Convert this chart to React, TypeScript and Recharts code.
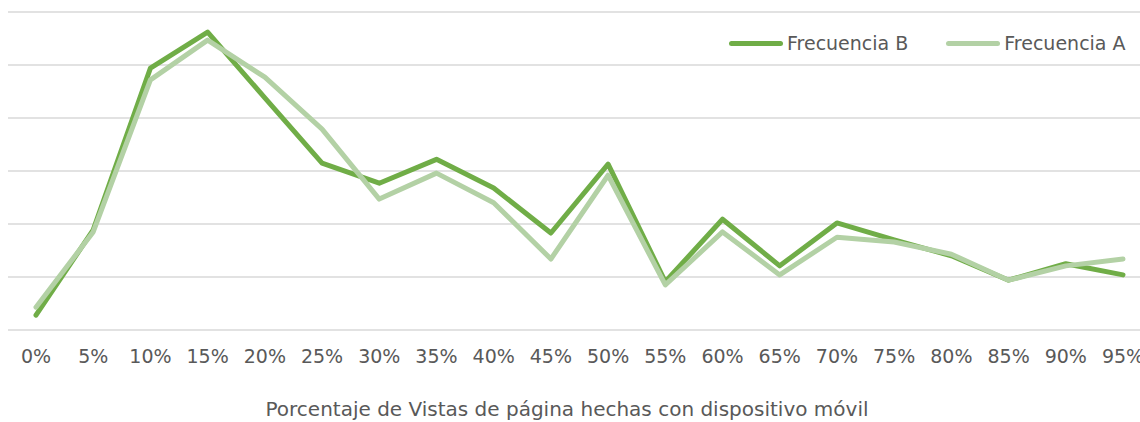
import React from 'react';
import { LineChart, Line, XAxis, YAxis, CartesianGrid, Legend, Label } from 'recharts';

const categories = ['0%', '5%', '10%', '15%', '20%', '25%', '30%', '35%', '40%', '45%', '50%', '55%', '60%', '65%', '70%', '75%', '80%', '85%', '90%', '95%'];
const frecuenciaB = [0.28, 1.89, 4.94, 5.62, 4.38, 3.15, 2.77, 3.22, 2.68, 1.83, 3.13, 0.91, 2.09, 1.21, 2.02, 1.7, 1.4, 0.94, 1.25, 1.04];
const frecuenciaA = [0.43, 1.85, 4.72, 5.47, 4.77, 3.79, 2.47, 2.96, 2.4, 1.34, 2.92, 0.85, 1.85, 1.04, 1.75, 1.66, 1.43, 0.94, 1.21, 1.34];
const yTicks = [0, 1, 2, 3, 4, 5, 6];

const data = categories.map((c, i) => ({ name: c, b: frecuenciaB[i], a: frecuenciaA[i] }));

const FONT = '"DejaVu Sans", Verdana, sans-serif';
const TEXT = '#595959';
const DARK = '#70AD47';
const LIGHT = '#B3D1A5';

const Tick = (props: any) => {
  const { x, y, payload } = props;
  return (
    <text x={x} y={y + 33} textAnchor="middle" fontSize={19} fontFamily={FONT} fill={TEXT}>
      {payload.value}
    </text>
  );
};

const legendItems = [
  { label: 'Frecuencia B', color: DARK },
  { label: 'Frecuencia A', color: LIGHT },
];

const renderLegend = () => (
  <div style={{ display: 'flex', alignItems: 'center', fontFamily: FONT, fontSize: 19, color: TEXT }}>
    {legendItems.map((it) => (
      <div key={it.label} style={{ display: 'flex', alignItems: 'center', marginRight: 38 }}>
        <div style={{ width: 54, height: 5, borderRadius: 3, background: it.color, marginRight: 4 }} />
        <span style={{ whiteSpace: 'nowrap' }}>{it.label}</span>
      </div>
    ))}
  </div>
);

export default function App() {
  return (
    <div style={{ position: 'absolute', left: 0, top: 0, width: 1140, height: 422, background: '#fff' }}>
      <LineChart width={1140} height={422} data={data} margin={{ top: 12, right: 0, left: 8, bottom: 0 }}>
        <CartesianGrid vertical={false} stroke="#d9d9d9" strokeWidth={1.5} />
        <YAxis hide domain={[0, 6]} ticks={yTicks} />
        <XAxis
          dataKey="name"
          height={92}
          axisLine={false}
          tickLine={false}
          tickSize={0}
          tickMargin={0}
          interval={0}
          padding={{ left: 28, right: 17 }}
          tick={<Tick />}
        >
          <Label
            value="Porcentaje de Vistas de página hechas con dispositivo móvil"
            position="insideBottom"
            offset={6}
            dx={-7}
            fontSize={20}
            fontFamily={FONT}
            fill={TEXT}
          />
        </XAxis>
        <Legend
          layout="horizontal"
          verticalAlign="middle"
          align="center"
          content={renderLegend}
          wrapperStyle={{ position: 'absolute', top: 32, left: 729, width: 420, height: 26 }}
        />
        <Line type="linear" dataKey="b" name="Frecuencia B" stroke={DARK} strokeWidth={5} dot={false} activeDot={false} strokeLinecap="round" strokeLinejoin="round" isAnimationActive={false} />
        <Line type="linear" dataKey="a" name="Frecuencia A" stroke={LIGHT} strokeWidth={5} dot={false} activeDot={false} strokeLinecap="round" strokeLinejoin="round" isAnimationActive={false} />
      </LineChart>
    </div>
  );
}
